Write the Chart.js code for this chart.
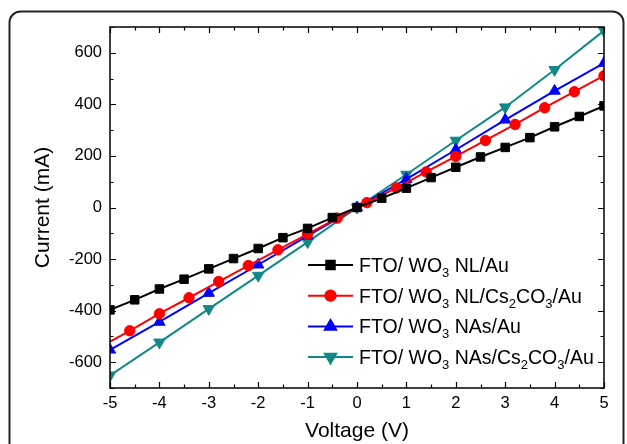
<!DOCTYPE html>
<html>
<head>
<meta charset="utf-8">
<script src="https://cdn.jsdelivr.net/npm/chart.js@4.4.1/dist/chart.umd.min.js"></script>
<style>
  body { margin: 0; background: #fff; }
  canvas { display: block; }
</style>
</head>
<body>
<canvas id="myChart" width="627" height="444"></canvas>
<script>
// I-V curves, four device stacks
const voltNL = [-5, -4.5, -4, -3.5, -3, -2.5, -2, -1.5, -1, -0.5, 0, 0.5, 1, 1.5, 2, 2.5, 3, 3.5, 4, 4.5, 5];
const currNL = [-397, -358, -316, -278, -238, -198, -159, -117, -81, -39, 0, 36, 75, 116, 156, 196, 233, 271, 313, 353, 394];

const voltNLCs = [-5, -4.6, -4, -3.4, -2.8, -2.2, -1.6, -1, -0.4, 0.2, 0.8, 1.4, 2, 2.6, 3.2, 3.8, 4.4, 5];
const currNLCs = [-520, -478, -412, -350, -287, -225, -164, -103, -41, 19, 76, 138, 198, 260, 322, 387, 449, 511];

const voltNAs = [-5, -4, -3, -2, -1, 0, 1, 2, 3, 4, 5];
const currNAs = [-552, -444, -332, -222, -110, 0, 110, 224, 340, 452, 560];

const voltNAsCs = [-5, -4, -3, -2, -1, 0, 1, 2, 3, 4, 5];
const currNAsCs = [-651, -523, -393, -264, -134, 0, 128, 260, 389, 534, 686];

const seriesNames = [
  'FTO/ WO3 NL/Au',
  'FTO/ WO3 NL/Cs2CO3/Au',
  'FTO/ WO3 NAs/Au',
  'FTO/ WO3 NAs/Cs2CO3/Au'
];

const xTicks = [-5, -4, -3, -2, -1, 0, 1, 2, 3, 4, 5];
const yTicks = [-600, -400, -200, 0, 200, 400, 600];

const pairs = (xs, ys) => xs.map((x, i) => ({ x: x, y: ys[i] }));

Chart.defaults.font.family = '"Liberation Sans", Arial, sans-serif';
Chart.defaults.color = '#000';

// rounded outer frame
const frame = {
  id: 'frame',
  beforeDraw(chart) {
    const ctx = chart.ctx;
    ctx.save();
    ctx.fillStyle = '#fff';
    ctx.fillRect(0, 0, chart.width, chart.height);
    ctx.strokeStyle = '#222';
    ctx.lineWidth = 2;
    ctx.beginPath();
    ctx.roundRect(9.5, 11.5, 614, 500, 11);
    ctx.stroke();
    ctx.restore();
  }
};

// closed box with inward ticks on all four sides
const boxTicks = {
  id: 'boxTicks',
  afterDatasetsDraw(chart) {
    const { ctx, chartArea: a, scales: { x, y } } = chart;
    ctx.save();
    ctx.strokeStyle = '#000';
    ctx.lineWidth = 1.2;
    ctx.beginPath();
    for (let v = -5; v <= 5; v += 0.5) {
      const px = Math.round(x.getPixelForValue(v)) + 0.5;
      const len = Number.isInteger(v) ? 6 : 3.5;
      ctx.moveTo(px, a.bottom); ctx.lineTo(px, a.bottom - len);
      ctx.moveTo(px, a.top); ctx.lineTo(px, a.top + len);
    }
    for (let v = -700; v <= 700; v += 100) {
      const py = Math.round(y.getPixelForValue(v)) + 0.5;
      const len = v % 200 === 0 ? 6 : 3.5;
      ctx.moveTo(a.left, py); ctx.lineTo(a.left + len, py);
      ctx.moveTo(a.right, py); ctx.lineTo(a.right - len, py);
    }
    ctx.stroke();
    ctx.lineWidth = 1.5;
    ctx.strokeRect(a.left, a.top, a.right - a.left, a.bottom - a.top);
    ctx.restore();
  }
};

// legend with subscripted digits
const chemLegend = {
  id: 'chemLegend',
  afterDraw(chart, args, opts) {
    const ctx = chart.ctx;
    ctx.save();
    chart.data.datasets.forEach((ds, i) => {
      const yc = opts.y + i * opts.gap;
      ctx.strokeStyle = ds.borderColor;
      ctx.lineWidth = 2;
      ctx.beginPath();
      ctx.moveTo(opts.x, yc);
      ctx.lineTo(opts.x + opts.lineLen, yc);
      ctx.stroke();
      ctx.fillStyle = ds.backgroundColor;
      Chart.helpers.drawPoint(ctx, {
        pointStyle: ds.pointStyle,
        radius: ds.pointRadiusLegend,
        rotation: ds.rotation || 0,
        borderWidth: 1
      }, opts.x + opts.lineLen / 2, yc);

      let tx = opts.x + opts.lineLen + 6;
      ctx.fillStyle = '#000';
      ctx.textBaseline = 'alphabetic';
      ds.label.split(/(\d+)/).forEach((part, k) => {
        if (!part) return;
        const sub = k % 2 === 1;
        ctx.font = (sub ? '13px' : '19.5px') + ' "Liberation Sans", Arial, sans-serif';
        ctx.fillText(part, tx, yc + 7 + (sub ? 5 : 0));
        tx += ctx.measureText(part).width;
      });
    });
    ctx.restore();
  }
};

const ctx = document.getElementById('myChart');

new Chart(ctx, {
  type: 'line',
  data: {
    datasets: [{
      label: seriesNames[0],
      data: pairs(voltNL, currNL),
      borderColor: '#000000',
      backgroundColor: '#000000',
      pointStyle: 'rect',
      pointRadius: 6,
      pointRadiusLegend: 6
    }, {
      label: seriesNames[1],
      data: pairs(voltNLCs, currNLCs),
      borderColor: '#ff0000',
      backgroundColor: '#ff0000',
      pointStyle: 'circle',
      pointRadius: c => (c.raw && c.raw.x <= -5 ? 0 : 5.2),
      pointRadiusLegend: 5.2
    }, {
      label: seriesNames[2],
      data: pairs(voltNAs, currNAs),
      borderColor: '#0000ff',
      backgroundColor: '#0000ff',
      pointStyle: 'triangle',
      pointRadius: 6.5,
      pointRadiusLegend: 6.5
    }, {
      label: seriesNames[3],
      data: pairs(voltNAsCs, currNAsCs),
      borderColor: '#128787',
      backgroundColor: '#128787',
      pointStyle: 'triangle',
      rotation: 180,
      pointRadius: 6.5,
      pointRadiusLegend: 6.5
    }]
  },
  options: {
    responsive: false,
    animation: false,
    clip: 0,
    elements: {
      line: { borderWidth: 2, tension: 0 },
      point: { borderWidth: 1, hoverRadius: 6 }
    },
    layout: { padding: { left: 0, top: 27, right: 23, bottom: 0 } },
    scales: {
      x: {
        type: 'linear',
        min: -5,
        max: 5,
        afterBuildTicks: s => { s.ticks = xTicks.map(v => ({ value: v })); },
        afterFit: s => { s.height = 56; },
        grid: { display: false, drawTicks: false },
        border: { display: false },
        ticks: { font: { size: 16.5 }, padding: 6, maxRotation: 0, callback: v => String(v) },
        title: { display: true, text: 'Voltage (V)', font: { size: 21 }, padding: 0 }
      },
      y: {
        type: 'linear',
        min: -700,
        max: 700,
        afterBuildTicks: s => { s.ticks = yTicks.map(v => ({ value: v })); },
        afterFit: s => { s.width = 110; },
        grid: { display: false, drawTicks: false },
        border: { display: false },
        ticks: { font: { size: 16.5 }, padding: 8, callback: v => String(v) },
        title: { display: true, text: 'Current (mA)', font: { size: 21 }, padding: { top: 31, bottom: 0 } }
      }
    },
    plugins: {
      legend: { display: false },
      tooltip: { enabled: false },
      chemLegend: { x: 308, y: 265, gap: 30.7, lineLen: 45 }
    }
  },
  plugins: [frame, boxTicks, chemLegend]
});
</script>
</body>
</html>
